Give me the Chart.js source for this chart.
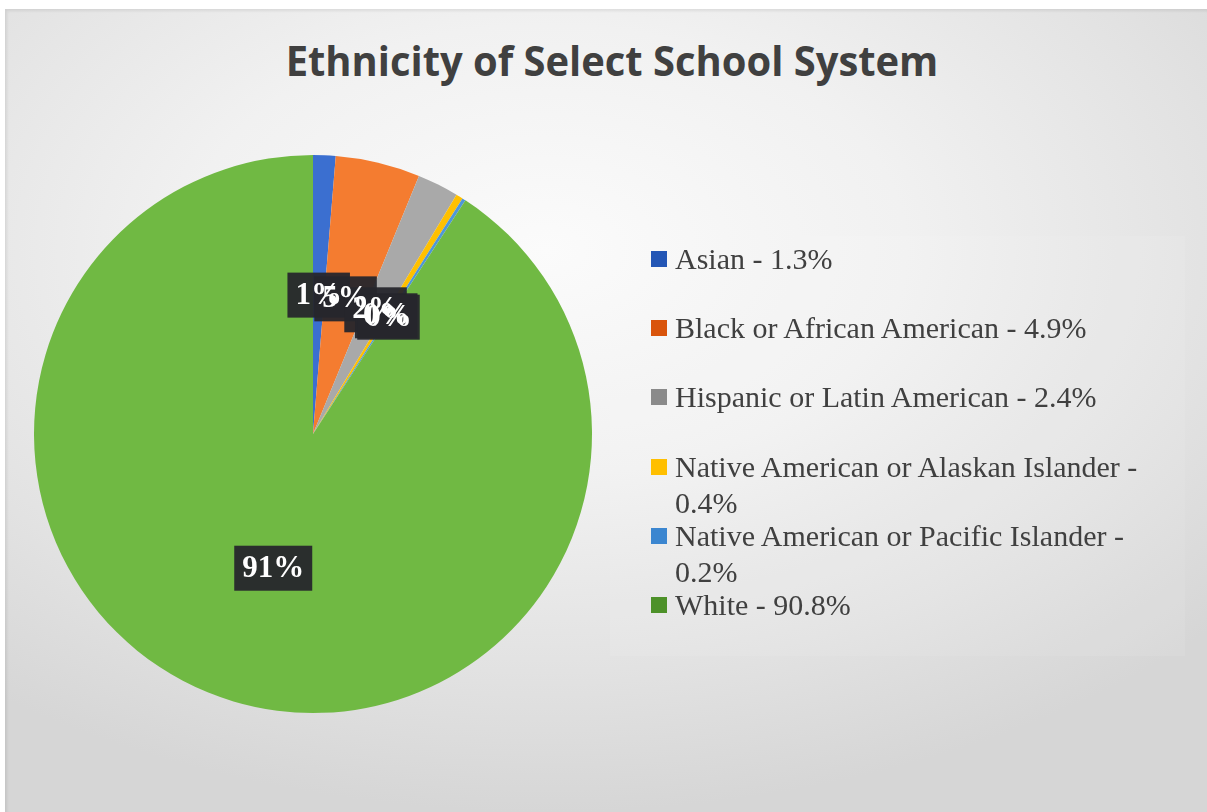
<!DOCTYPE html>
<html>
<head>
<meta charset="utf-8">
<script src="https://cdn.jsdelivr.net/npm/chart.js@4/dist/chart.umd.min.js"></script>
<style>
  html, body { margin: 0; padding: 0; background: #ffffff; }
  #frame {
    position: absolute; left: 5px; top: 9px; width: 1202px; height: 803px;
    background: radial-gradient(ellipse 75% 70% at 45% 30%, #fbfbfb 0%, #f1f1f1 40%, #e2e2e2 75%, #d6d6d6 100%);
    box-shadow: inset 2px 2px 3px rgba(0,0,0,0.08);
  }
  #title {
    position: absolute; left: 0; top: 31px; width: 1224px; text-align: center;
    font: bold 42px "Open Sans", sans-serif; color: #404040;
    transform: scaleX(0.95); transform-origin: 612px 0;
    white-space: nowrap;
  }
  #chartBox { position: absolute; left: 0; top: 0; width: 1207px; height: 812px; }
  #legendBox {
    position: absolute; left: 610px; top: 236px; width: 575px; height: 420px;
    background: rgba(255,255,255,0.08);
  }
  .legend-item {
    position: absolute; left: 651px; width: 520px;
    font: 30px "Liberation Serif", "Times New Roman", serif; color: #404040;
    line-height: 36px;
  }
  .legend-item .swatch {
    position: absolute; left: 0; top: 10px; width: 16px; height: 16px;
  }
  .legend-item .txt { margin-left: 24px; width: 490px; display: block; }
</style>
</head>
<body>
<div id="frame"></div>
<div id="legendBox"></div>
<div id="title">Ethnicity of Select School System</div>
<div id="chartBox"><canvas id="pieChart"></canvas></div>
<div id="legend"></div>
<script>
'use strict';

// ---------------------------------------------------------------------------
// Data
// ---------------------------------------------------------------------------

const categories = [
  'Asian',
  'Black or African American',
  'Hispanic or Latin American',
  'Native American or Alaskan Islander',
  'Native American or Pacific Islander',
  'White',
];
const shares = [1.3, 4.9, 2.4, 0.4, 0.2, 90.8];

const sliceColors  = ['#3b6fd0', '#f47c30', '#a9a9a9', '#ffc000', '#4f97d8', '#70b943'];
const legendColors = ['#2356b5', '#d9540b', '#8a8a8a', '#ffbf00', '#3b86d0', '#4d9129'];

// ---------------------------------------------------------------------------
// Slice labels (dark boxes, drawn after the slices)
// ---------------------------------------------------------------------------

const sliceLabels = {
  id: 'sliceLabels',
  afterDatasetsDraw(chart) {
    const ctx  = chart.ctx;
    const arcs = chart.getDatasetMeta(0).data;
    ctx.save();
    ctx.font = 'bold 31px "Liberation Serif", "Times New Roman", serif';
    const boxes = arcs.map((arc, i) => {
      const p    = arc.tooltipPosition();
      const text = `${Math.round(shares[i])}%`;
      return { p, text, w: ctx.measureText(text).width + 16 };
    });
    ctx.fillStyle = 'rgba(38,38,44,0.95)';
    boxes.forEach(b => ctx.fillRect(b.p.x - b.w / 2, b.p.y - 22, b.w, 45));
    ctx.fillStyle    = '#ffffff';
    ctx.textAlign    = 'center';
    ctx.textBaseline = 'middle';
    boxes.forEach(b => ctx.fillText(b.text, b.p.x, b.p.y + 1));
    ctx.restore();
  },
};

new Chart(document.getElementById('pieChart'), {
  type: 'pie',
  data: {
    labels: categories,
    datasets: [{
      data:            shares,
      backgroundColor: sliceColors,
      borderWidth:     0,
    }],
  },
  options: {
    responsive: true,
    maintainAspectRatio: false,
    animation: false,
    layout: { padding: { left: 34, right: 615, top: 155, bottom: 99 } },
    plugins: {
      legend:  { display: false },
      tooltip: { enabled: false },
    },
  },
  plugins: [sliceLabels],
});

// ---------------------------------------------------------------------------
// Legend
// ---------------------------------------------------------------------------

document.getElementById('legend').innerHTML = categories.map((c, i) => `
  <div class="legend-item" style="top:${241 + i * 69.2}px">
    <span class="swatch" style="background:${legendColors[i]}"></span>
    <span class="txt">${c} - ${shares[i].toFixed(1)}%</span>
  </div>
`).join('');
</script>
</body>
</html>
